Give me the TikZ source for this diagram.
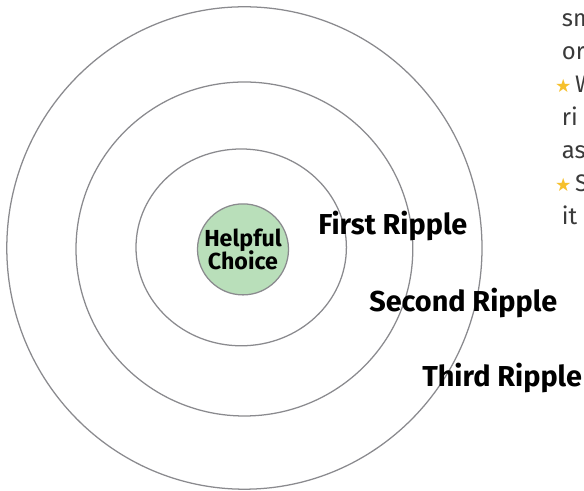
\documentclass[tikz,border=0pt]{standalone}
\usepackage{fontspec}
\setmainfont{Fira Sans}
\newfontfamily\symfont{DejaVu Sans}
\usepackage{xcolor}
\usetikzlibrary{positioning}
\definecolor{rgray}{HTML}{8A8A8E}
\definecolor{rgreen}{HTML}{B9DFBA}
\definecolor{rstar}{HTML}{F6C02C}
\definecolor{rtext}{HTML}{3A3A3A}

\tikzset{
  ripple/.style={draw=rgray, line width=0.9pt},
  ripplelbl/.style={anchor=base west, inner sep=0pt, font=\fontsize{20.5}{22}\selectfont\bfseries},
  noteline/.style={anchor=base west, inner sep=0pt, text=rtext, font=\fontsize{17}{19}\selectfont},
  starmark/.style={text=rstar, font=\symfont\fontsize{13}{14}\selectfont}
}

\begin{document}
\begin{tikzpicture}[x=1cm, y=1cm]
\useasboundingbox (0,0) rectangle (14.6,12.275);
% ripples
\draw[ripple] (6.11,6.075) ellipse [x radius=5.94, y radius=6.03];
\draw[ripple] (6.11,6.05) ellipse [x radius=4.21, y radius=4.175];
\draw[ripple] (6.03,6.09) ellipse [x radius=2.63, y radius=2.46];
% centre
\node[circle, draw=rgray, fill=rgreen, line width=0.9pt, minimum size=2.275cm, inner sep=0pt,
  align=center, font=\fontsize{16.5}{16.5}\selectfont\bfseries]
  (choice) at (6.075,6.04) {\raisebox{-4pt}{Helpful}\\[-1pt]\raisebox{-4pt}{Choice}};
\node[ripplelbl] (first) at (7.95,6.40) {First Ripple};
\node[ripplelbl] (second) at (9.225,4.475) {Second Ripple};
\node[ripplelbl] (third) at (10.55,2.60) {Third Ripple};
% notes (cut by the page edge)
\node[noteline] (n1) at (14.04,11.6) {sm};
\node[noteline] (n2) at (14.04,10.775) {or};
\node[starmark, anchor=base west, inner sep=0pt] (s1) at (13.87,9.95) {★};
\node[noteline, right=0.08cm of s1.base east, anchor=base west] (n3) {W};
\node[noteline] (n4) at (14.04,9.125) {ri};
\node[noteline] (n5) at (14.04,8.30) {as};
\node[starmark, anchor=base west, inner sep=0pt] (s2) at (13.87,7.475) {★};
\node[noteline, right=0.08cm of s2.base east, anchor=base west] (n6) {S};
\node[noteline] (n7) at (14.04,6.65) {it};
\end{tikzpicture}
\end{document}
